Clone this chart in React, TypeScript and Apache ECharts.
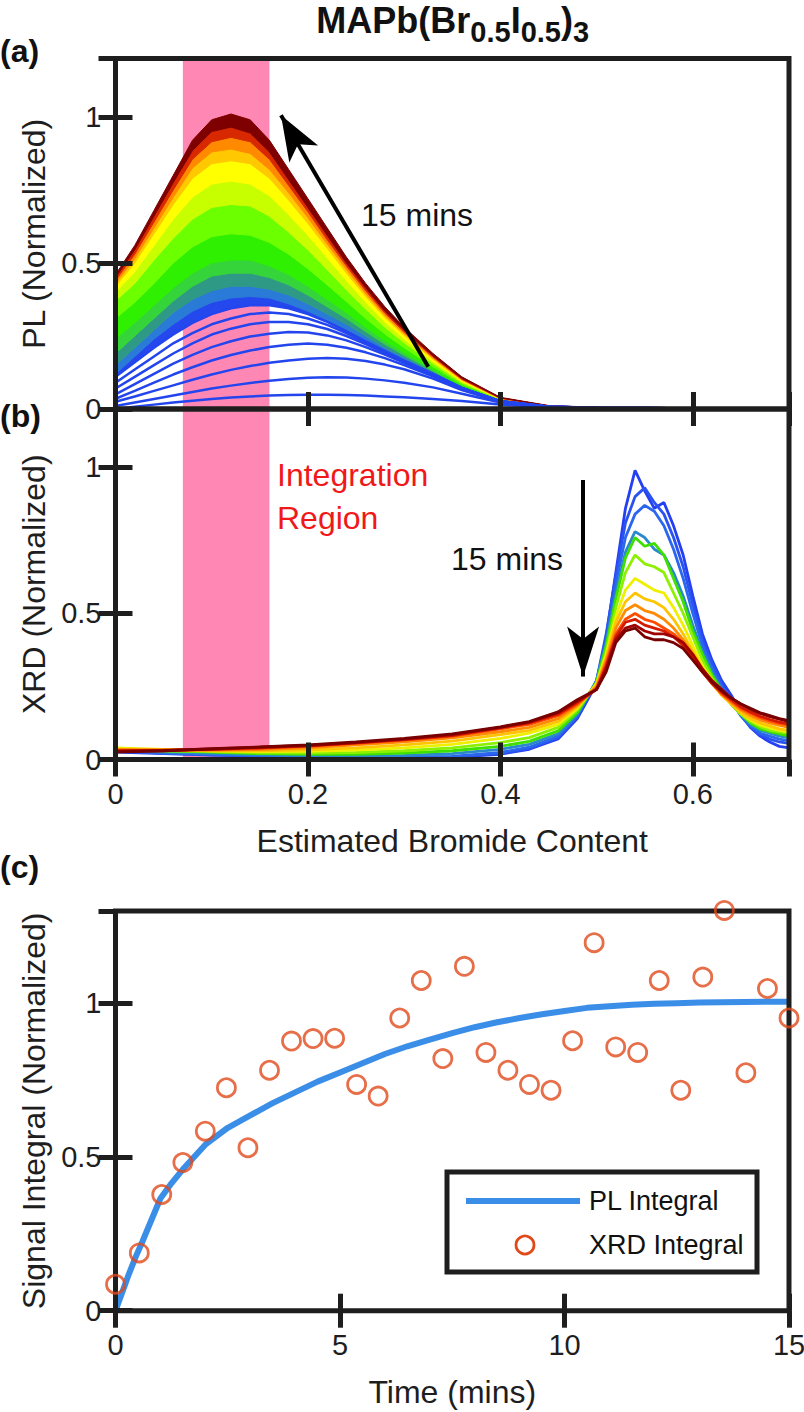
import React, { useEffect, useRef } from 'react';
import * as echarts from 'echarts';

const FONT = "'Liberation Sans', Arial, Helvetica, sans-serif";
const INK = '#1e1e1e';
const PINK = '#ff87b4';
const SPARSE_BLUE = '#2345ee';
const PL_BLUE = '#3a8ee8';
const XRD_ORANGE = '#e04a1a';

// ---------- Panel (a): PL spectra ----------
const plX = [0, 0.02, 0.04, 0.06, 0.08, 0.10, 0.12, 0.14, 0.16, 0.18, 0.20, 0.22, 0.24, 0.26, 0.28, 0.30, 0.33, 0.36, 0.40, 0.45, 0.50, 0.55, 0.60, 0.65, 0.70];

// early spectra, drawn as separate lines (lowest first); the last one is the floor of the dense band
const plSparse = [
  [0.0, 0.008, 0.015, 0.022, 0.028, 0.034, 0.039, 0.043, 0.046, 0.048, 0.049, 0.049, 0.048, 0.046, 0.043, 0.04, 0.034, 0.027, 0.015, 0.006, 0.003, 0.002, 0.0015, 0.001, 0.001],
  [0.01, 0.022, 0.034, 0.046, 0.058, 0.07, 0.08, 0.089, 0.097, 0.103, 0.107, 0.109, 0.108, 0.104, 0.098, 0.09, 0.074, 0.052, 0.022, 0.007, 0.003, 0.002, 0.0015, 0.001, 0.001],
  [0.025, 0.043, 0.062, 0.081, 0.1, 0.118, 0.134, 0.147, 0.158, 0.166, 0.172, 0.175, 0.172, 0.164, 0.152, 0.136, 0.104, 0.065, 0.025, 0.008, 0.004, 0.003, 0.002, 0.0015, 0.001],
  [0.035, 0.062, 0.09, 0.118, 0.143, 0.166, 0.185, 0.2, 0.212, 0.22, 0.224, 0.22, 0.21, 0.194, 0.174, 0.15, 0.112, 0.068, 0.026, 0.008, 0.004, 0.003, 0.002, 0.0015, 0.001],
  [0.05, 0.085, 0.12, 0.155, 0.185, 0.212, 0.232, 0.248, 0.258, 0.264, 0.262, 0.252, 0.235, 0.212, 0.186, 0.158, 0.116, 0.07, 0.027, 0.008, 0.004, 0.003, 0.002, 0.0015, 0.001],
  [0.07, 0.11, 0.15, 0.19, 0.225, 0.255, 0.275, 0.29, 0.298, 0.298, 0.29, 0.274, 0.25, 0.222, 0.192, 0.162, 0.118, 0.071, 0.027, 0.008, 0.004, 0.003, 0.002, 0.0015, 0.001],
  [0.09, 0.135, 0.18, 0.225, 0.26, 0.29, 0.31, 0.325, 0.33, 0.325, 0.31, 0.288, 0.26, 0.228, 0.196, 0.164, 0.119, 0.072, 0.027, 0.008, 0.004, 0.003, 0.002, 0.0015, 0.001],
  [0.11, 0.16, 0.21, 0.255, 0.295, 0.325, 0.345, 0.355, 0.355, 0.345, 0.325, 0.298, 0.266, 0.232, 0.198, 0.166, 0.12, 0.072, 0.027, 0.008, 0.004, 0.003, 0.002, 0.0015, 0.001],
];

// later spectra, densely packed (bottom to top)
const plDense = [
  [0.12, 0.18, 0.24, 0.29, 0.335, 0.365, 0.38, 0.385, 0.38, 0.36, 0.335, 0.305, 0.272, 0.236, 0.2, 0.168, 0.12, 0.072, 0.027, 0.008, 0.004, 0.003, 0.002, 0.0015, 0.001],
  [0.15, 0.21, 0.27, 0.33, 0.375, 0.405, 0.42, 0.42, 0.41, 0.39, 0.36, 0.325, 0.29, 0.25, 0.21, 0.176, 0.125, 0.074, 0.028, 0.009, 0.004, 0.003, 0.002, 0.0015, 0.001],
  [0.19, 0.25, 0.31, 0.37, 0.42, 0.455, 0.465, 0.465, 0.45, 0.425, 0.39, 0.35, 0.31, 0.265, 0.222, 0.184, 0.13, 0.077, 0.029, 0.009, 0.004, 0.003, 0.002, 0.0015, 0.001],
  [0.24, 0.295, 0.355, 0.415, 0.465, 0.50, 0.51, 0.51, 0.49, 0.46, 0.42, 0.375, 0.33, 0.28, 0.234, 0.193, 0.135, 0.08, 0.03, 0.009, 0.004, 0.003, 0.002, 0.0015, 0.001],
  [0.31, 0.365, 0.43, 0.50, 0.555, 0.59, 0.60, 0.595, 0.57, 0.53, 0.48, 0.425, 0.368, 0.31, 0.257, 0.21, 0.145, 0.085, 0.031, 0.009, 0.004, 0.003, 0.002, 0.0015, 0.001],
  [0.37, 0.43, 0.51, 0.585, 0.65, 0.69, 0.70, 0.695, 0.66, 0.605, 0.545, 0.477, 0.408, 0.342, 0.28, 0.227, 0.155, 0.09, 0.033, 0.01, 0.005, 0.003, 0.002, 0.0015, 0.001],
  [0.40, 0.47, 0.56, 0.65, 0.725, 0.77, 0.78, 0.77, 0.73, 0.665, 0.595, 0.518, 0.44, 0.366, 0.298, 0.24, 0.163, 0.094, 0.034, 0.01, 0.005, 0.003, 0.002, 0.0015, 0.001],
  [0.42, 0.50, 0.60, 0.70, 0.79, 0.84, 0.85, 0.84, 0.79, 0.715, 0.635, 0.55, 0.465, 0.385, 0.313, 0.252, 0.17, 0.098, 0.035, 0.01, 0.005, 0.003, 0.002, 0.0015, 0.001],
  [0.43, 0.515, 0.62, 0.725, 0.825, 0.88, 0.89, 0.875, 0.82, 0.74, 0.655, 0.565, 0.478, 0.395, 0.32, 0.258, 0.174, 0.1, 0.036, 0.01, 0.005, 0.003, 0.002, 0.0015, 0.001],
  [0.44, 0.53, 0.64, 0.75, 0.855, 0.915, 0.93, 0.915, 0.855, 0.765, 0.675, 0.58, 0.49, 0.405, 0.328, 0.264, 0.178, 0.102, 0.037, 0.011, 0.005, 0.003, 0.002, 0.0015, 0.001],
  [0.45, 0.545, 0.66, 0.775, 0.885, 0.95, 0.965, 0.945, 0.88, 0.785, 0.69, 0.595, 0.50, 0.415, 0.335, 0.27, 0.182, 0.105, 0.038, 0.011, 0.005, 0.0035, 0.0025, 0.0015, 0.001],
  [0.46, 0.56, 0.68, 0.80, 0.92, 0.99, 1.01, 0.99, 0.92, 0.82, 0.72, 0.62, 0.52, 0.43, 0.35, 0.28, 0.19, 0.11, 0.04, 0.012, 0.006, 0.004, 0.003, 0.002, 0.001],
];
const plDenseColors = ['#2448ee', '#2a7ad8', '#2e9a86', '#34d43a', '#2ef000', '#6cff00', '#c8ff00', '#ffff00', '#ffc800', '#ff8a00', '#d82800', '#7e0000'];

// ---------- Panel (b): XRD spectra ----------
const xrdX = [0, 0.05, 0.10, 0.15, 0.20, 0.25, 0.30, 0.35, 0.40, 0.43, 0.46, 0.48, 0.50, 0.51, 0.52, 0.53, 0.54, 0.55, 0.56, 0.57, 0.58, 0.59, 0.60, 0.61, 0.62, 0.63, 0.64, 0.65, 0.66, 0.67, 0.68, 0.69, 0.70];
const xrdCurves = [
  [0.025, 0.02, 0.015, 0.012, 0.008, 0.006, 0.005, 0.008, 0.018, 0.035, 0.07, 0.14, 0.26, 0.42, 0.64, 0.86, 0.99, 0.92, 0.86, 0.88, 0.80, 0.70, 0.56, 0.43, 0.34, 0.27, 0.22, 0.16, 0.11, 0.08, 0.06, 0.045, 0.04],
  [0.028, 0.022, 0.016, 0.012, 0.009, 0.007, 0.006, 0.009, 0.02, 0.038, 0.075, 0.145, 0.27, 0.43, 0.63, 0.81, 0.90, 0.93, 0.88, 0.84, 0.76, 0.66, 0.53, 0.41, 0.33, 0.26, 0.2, 0.15, 0.11, 0.085, 0.07, 0.06, 0.055],
  [0.03, 0.022, 0.018, 0.014, 0.01, 0.008, 0.008, 0.011, 0.024, 0.042, 0.08, 0.15, 0.27, 0.41, 0.60, 0.76, 0.84, 0.87, 0.85, 0.80, 0.72, 0.62, 0.50, 0.39, 0.31, 0.25, 0.2, 0.15, 0.115, 0.09, 0.08, 0.07, 0.065],
  [0.03, 0.025, 0.02, 0.016, 0.013, 0.012, 0.014, 0.02, 0.035, 0.052, 0.088, 0.155, 0.27, 0.40, 0.57, 0.71, 0.78, 0.76, 0.72, 0.70, 0.64, 0.56, 0.46, 0.37, 0.30, 0.24, 0.19, 0.155, 0.12, 0.1, 0.09, 0.08, 0.075],
  [0.035, 0.03, 0.025, 0.02, 0.018, 0.018, 0.022, 0.03, 0.045, 0.062, 0.098, 0.16, 0.265, 0.39, 0.55, 0.69, 0.76, 0.73, 0.74, 0.70, 0.62, 0.54, 0.44, 0.36, 0.29, 0.235, 0.19, 0.155, 0.125, 0.105, 0.095, 0.088, 0.08],
  [0.035, 0.03, 0.027, 0.023, 0.022, 0.024, 0.03, 0.04, 0.058, 0.075, 0.11, 0.17, 0.26, 0.37, 0.52, 0.64, 0.70, 0.67, 0.66, 0.64, 0.57, 0.5, 0.42, 0.34, 0.28, 0.23, 0.19, 0.155, 0.13, 0.112, 0.1, 0.095, 0.09],
  [0.04, 0.035, 0.03, 0.027, 0.028, 0.032, 0.04, 0.052, 0.072, 0.09, 0.12, 0.175, 0.26, 0.36, 0.49, 0.58, 0.62, 0.60, 0.58, 0.57, 0.52, 0.46, 0.39, 0.32, 0.27, 0.225, 0.19, 0.16, 0.135, 0.118, 0.108, 0.1, 0.095],
  [0.035, 0.033, 0.03, 0.03, 0.033, 0.04, 0.05, 0.063, 0.085, 0.1, 0.13, 0.18, 0.255, 0.35, 0.47, 0.54, 0.57, 0.55, 0.54, 0.52, 0.48, 0.43, 0.37, 0.31, 0.26, 0.22, 0.19, 0.16, 0.14, 0.125, 0.115, 0.105, 0.1],
  [0.035, 0.033, 0.032, 0.034, 0.04, 0.05, 0.06, 0.074, 0.095, 0.11, 0.14, 0.185, 0.25, 0.34, 0.45, 0.51, 0.53, 0.51, 0.5, 0.48, 0.45, 0.41, 0.36, 0.31, 0.265, 0.225, 0.195, 0.17, 0.15, 0.135, 0.125, 0.117, 0.11],
  [0.03, 0.032, 0.034, 0.038, 0.045, 0.055, 0.066, 0.08, 0.105, 0.12, 0.15, 0.19, 0.245, 0.33, 0.43, 0.48, 0.50, 0.48, 0.47, 0.45, 0.43, 0.40, 0.35, 0.30, 0.26, 0.225, 0.2, 0.175, 0.158, 0.143, 0.132, 0.124, 0.118],
  [0.03, 0.032, 0.035, 0.04, 0.047, 0.057, 0.068, 0.082, 0.108, 0.125, 0.155, 0.195, 0.24, 0.32, 0.42, 0.47, 0.48, 0.46, 0.45, 0.44, 0.42, 0.39, 0.345, 0.30, 0.26, 0.23, 0.205, 0.18, 0.163, 0.148, 0.137, 0.128, 0.122],
  [0.028, 0.03, 0.036, 0.042, 0.048, 0.058, 0.07, 0.085, 0.11, 0.128, 0.16, 0.2, 0.24, 0.31, 0.41, 0.45, 0.46, 0.44, 0.43, 0.43, 0.42, 0.40, 0.36, 0.31, 0.27, 0.24, 0.21, 0.19, 0.172, 0.158, 0.147, 0.138, 0.13],
  [0.025, 0.03, 0.037, 0.043, 0.05, 0.06, 0.072, 0.088, 0.112, 0.13, 0.163, 0.205, 0.24, 0.30, 0.40, 0.44, 0.45, 0.42, 0.41, 0.41, 0.40, 0.38, 0.34, 0.30, 0.265, 0.235, 0.21, 0.19, 0.175, 0.16, 0.15, 0.14, 0.133],
];
const xrdColors = ['#2540f2', '#2a52f0', '#2a66ee', '#2a88cc', '#3ee000', '#8cf000', '#eef000', '#ffc400', '#ff8c00', '#ff4d00', '#d41a00', '#a00000', '#780000'];

// ---------- Panel (c): integrals vs time ----------
const plTime = [0, 0.1, 0.2, 0.3, 0.45, 0.6, 0.8, 1.0, 1.25, 1.5, 2.0, 2.5, 3.0, 3.5, 4.0, 4.5, 5.0, 5.5, 6.0, 6.5, 7.0, 7.5, 8.0, 8.5, 9.0, 9.5, 10.0, 10.5, 11.0, 11.5, 12.0, 12.5, 13.0, 13.5, 14.0, 14.5, 15.0];
const plIntegral = [0, 0.04, 0.08, 0.12, 0.175, 0.225, 0.295, 0.365, 0.415, 0.46, 0.54, 0.595, 0.635, 0.675, 0.71, 0.745, 0.775, 0.805, 0.835, 0.86, 0.882, 0.903, 0.922, 0.938, 0.952, 0.964, 0.975, 0.985, 0.99, 0.995, 0.998, 1.0, 1.002, 1.003, 1.004, 1.005, 1.005];
const xrdTime = [0, 0.53, 1.03, 1.5, 2.0, 2.47, 2.95, 3.43, 3.92, 4.4, 4.88, 5.37, 5.85, 6.33, 6.81, 7.29, 7.77, 8.25, 8.74, 9.22, 9.7, 10.18, 10.66, 11.14, 11.63, 12.11, 12.59, 13.08, 13.56, 14.04, 14.52, 15.0];
const xrdIntegral = [0.086, 0.188, 0.378, 0.482, 0.584, 0.725, 0.53, 0.782, 0.877, 0.885, 0.886, 0.736, 0.698, 0.952, 1.074, 0.82, 1.12, 0.84, 0.782, 0.736, 0.717, 0.878, 1.197, 0.858, 0.84, 1.074, 0.717, 1.085, 1.302, 0.774, 1.048, 0.952];

// annotations (data coordinates)
const integrationBand = [0.07, 0.16];
const arrowA = { from: [0.325, 0.145], to: [0.172, 1.006] };
const arrowB = { from: [0.486, 0.957], to: [0.486, 0.284] };

function xAxisDef(gridIndex: number, min: number, max: number, interval: number, position: string, showLabels: boolean, showMax: boolean, name?: string) {
  return {
    type: 'value', gridIndex, min, max, interval, position, z: 7,
    axisLine: { show: false },
    axisTick: { show: true, inside: true, length: 17, lineStyle: { color: INK, width: 5 } },
    axisLabel: { show: showLabels, showMaxLabel: showMax, margin: 20, fontSize: 29, fontFamily: FONT, color: INK },
    splitLine: { show: false },
    name, nameLocation: 'middle', nameGap: 65,
    nameTextStyle: { fontSize: 32, fontFamily: FONT, color: INK },
  };
}
function yAxisDef(gridIndex: number, max: number, position: string, showLabels: boolean, name?: string) {
  return {
    type: 'value', gridIndex, min: 0, max, interval: 0.5, position, z: 7,
    axisLine: { show: false },
    axisTick: { show: true, inside: true, length: 17, lineStyle: { color: INK, width: 5 } },
    axisLabel: { show: showLabels, showMaxLabel: false, margin: 14, fontSize: 29, fontFamily: FONT, color: INK },
    splitLine: { show: false },
    name, nameLocation: 'middle', nameGap: 66,
    nameTextStyle: { fontSize: 32, fontFamily: FONT, color: INK },
  };
}

function bandSeries(lower: number[], upper: number[], color: string) {
  return {
    type: 'custom', coordinateSystem: 'cartesian2d', xAxisIndex: 0, yAxisIndex: 0, z: 3, silent: true,
    data: plX.map((x, i) => [x, lower[i], upper[i]]),
    encode: { x: 0, y: [1, 2] },
    renderItem: (params: any, api: any) => {
      if (params.dataIndex !== 0) return null;
      const top = plX.map((x, i) => api.coord([x, upper[i]]));
      const bottom = plX.map((x, i) => api.coord([x, lower[i]])).reverse();
      return {
        type: 'polygon',
        shape: { points: top.concat(bottom) },
        style: { fill: color, stroke: color, lineWidth: 1 },
      };
    },
  };
}

function buildOption() {
  const grids = [
    { left: 115.5, top: 58.5, width: 673.5, height: 350.5 },
    { left: 115.5, top: 409, width: 673.5, height: 350.5 },
    { left: 115.5, top: 911, width: 673.5, height: 399.7 },
  ].map((g) => ({
    ...g, show: true, borderColor: INK, borderWidth: 5, backgroundColor: 'transparent', z: 6,
    containLabel: false, outerBoundsMode: 'none',
  }));

  const xAxis = [
    xAxisDef(0, 0, 0.7, 0.2, 'bottom', false, false),
    xAxisDef(0, 0, 0.7, 0.2, 'top', false, false),
    xAxisDef(1, 0, 0.7, 0.2, 'bottom', true, false, 'Estimated Bromide Content'),
    xAxisDef(1, 0, 0.7, 0.2, 'top', false, false),
    xAxisDef(2, 0, 15, 5, 'bottom', true, true, 'Time (mins)'),
    xAxisDef(2, 0, 15, 5, 'top', false, false),
  ];
  const yAxis = [
    yAxisDef(0, 1.2, 'left', true, 'PL (Normalized)'),
    yAxisDef(0, 1.2, 'right', false),
    yAxisDef(1, 1.2, 'left', true, 'XRD (Normalized)'),
    yAxisDef(1, 1.2, 'right', false),
    yAxisDef(2, 1.3, 'left', true, 'Signal Integral (Normalized)'),
    yAxisDef(2, 1.3, 'right', false),
  ];

  const series: any[] = [];
  // pink integration band in panels (a) and (b)
  [0, 2].forEach((ax) => {
    series.push({
      type: 'line', xAxisIndex: ax, yAxisIndex: ax, data: [], z: 1, silent: true,
      markArea: {
        silent: true, z: 1,
        itemStyle: { color: PINK, opacity: 1 },
        data: [[{ xAxis: integrationBand[0] }, { xAxis: integrationBand[1] }]],
      },
    });
  });

  // panel (a): dense later spectra drawn as colour bands between consecutive spectra
  let lower = plSparse[plSparse.length - 1];
  plDense.forEach((curve, k) => {
    series.push(bandSeries(lower, curve, plDenseColors[k]));
    lower = curve;
  });
  // early spectra as separate lines
  plSparse.forEach((curve) => {
    series.push({
      type: 'line', xAxisIndex: 0, yAxisIndex: 0, z: 4, silent: true,
      data: plX.map((x, i) => [x, curve[i]]), showSymbol: false,
      lineStyle: { color: SPARSE_BLUE, width: 2.5 },
    });
  });

  // panel (b): XRD spectra in time order
  xrdCurves.forEach((curve, k) => {
    series.push({
      type: 'line', xAxisIndex: 2, yAxisIndex: 2, z: 3, silent: true,
      data: xrdX.map((x, i) => [x, curve[i]]), showSymbol: false,
      lineStyle: { color: xrdColors[k], width: 2.8 },
    });
  });

  // arrows
  const arrow = (ax: number, a: any, w: number, h: number) => ({
    type: 'line', xAxisIndex: ax, yAxisIndex: ax, data: [], z: 8, silent: true,
    markLine: {
      silent: true, z: 8, animation: false,
      symbol: ['none', 'arrow'],
      lineStyle: { color: '#000', width: 4, type: 'solid' },
      label: { show: false },
      emphasis: { disabled: true },
      data: [[{ coord: a.from, symbol: 'none' }, { coord: a.to, symbol: 'arrow', symbolSize: [w, h] }]],
    },
  });
  series.push(arrow(0, arrowA, 25, 45));
  series.push(arrow(2, arrowB, 24, 50));

  // panel (c)
  series.push({
    type: 'line', xAxisIndex: 4, yAxisIndex: 4, z: 3, silent: true,
    data: plTime.map((t, i) => [t, plIntegral[i]]), showSymbol: false,
    lineStyle: { color: PL_BLUE, width: 6 },
  });
  series.push({
    type: 'scatter', xAxisIndex: 4, yAxisIndex: 4, z: 8, silent: true, clip: false,
    data: xrdTime.map((t, i) => [t, xrdIntegral[i]]),
    symbol: 'circle', symbolSize: 18,
    itemStyle: { color: 'rgba(0,0,0,0)', borderColor: XRD_ORANGE, borderWidth: 2.8 },
  });

  const txt = (text: string, x: number, y: number, extra: any = {}) => ({
    type: 'text', x, y, z: 100, silent: true,
    style: { text, fill: '#111', fontSize: 32, fontFamily: FONT, align: 'left', verticalAlign: 'middle', ...extra },
  });

  const graphic = [
    {
      type: 'text', x: 453, y: 2, z: 100, silent: true,
      style: {
        text: '{m|MAPb(Br}{s|0.5}{m|I}{s|0.5}{m|)}{s|3}{sp|\u00a0}',
        align: 'center', verticalAlign: 'top', fill: '#111',
        rich: {
          m: { fontSize: 36, fontWeight: 'bold', fontFamily: FONT, lineHeight: 34, verticalAlign: 'top' },
          s: { fontSize: 29, fontWeight: 'bold', fontFamily: FONT, lineHeight: 30, verticalAlign: 'bottom' },
          sp: { fontSize: 2, lineHeight: 44 },
        },
      },
    },
    txt('(a)', 0, 51, { fontWeight: 'bold' }),
    txt('(b)', 0, 416, { fontWeight: 'bold' }),
    txt('(c)', 0, 867, { fontWeight: 'bold' }),
    txt('15 mins', 361, 215),
    txt('15 mins', 451, 559),
    txt('Integration\nRegion', 277, 453.5, { fill: '#f01818', verticalAlign: 'top', lineHeight: 43 }),
    // legend for panel (c)
    { type: 'rect', z: 100, silent: true, shape: { x: 447, y: 1172, width: 310, height: 100 }, style: { fill: '#fff', stroke: INK, lineWidth: 5 } },
    { type: 'line', z: 101, silent: true, shape: { x1: 466, y1: 1201, x2: 580, y2: 1201 }, style: { stroke: PL_BLUE, lineWidth: 6 } },
    { type: 'circle', z: 101, silent: true, shape: { cx: 525, cy: 1245, r: 9 }, style: { fill: 'none', stroke: XRD_ORANGE, lineWidth: 2.8 } },
    { ...txt('PL Integral', 589, 1201, { fontSize: 27 }), z: 101 },
    { ...txt('XRD Integral', 589, 1245, { fontSize: 27 }), z: 101 },
  ];

  return {
    animation: false,
    backgroundColor: '#ffffff',
    textStyle: { fontFamily: FONT },
    grid: grids,
    xAxis,
    yAxis,
    series,
    graphic,
  };
}

export default function App() {
  const ref = useRef<HTMLDivElement>(null);
  useEffect(() => {
    if (!ref.current) return;
    const chart = echarts.init(ref.current, null, { renderer: 'svg' });
    chart.setOption(buildOption() as any);
    return () => chart.dispose();
  }, []);
  return (
    <div
      ref={ref}
      style={{ position: 'absolute', left: 0, top: 0, width: 804, height: 1412, background: '#fff' }}
    />
  );
}
